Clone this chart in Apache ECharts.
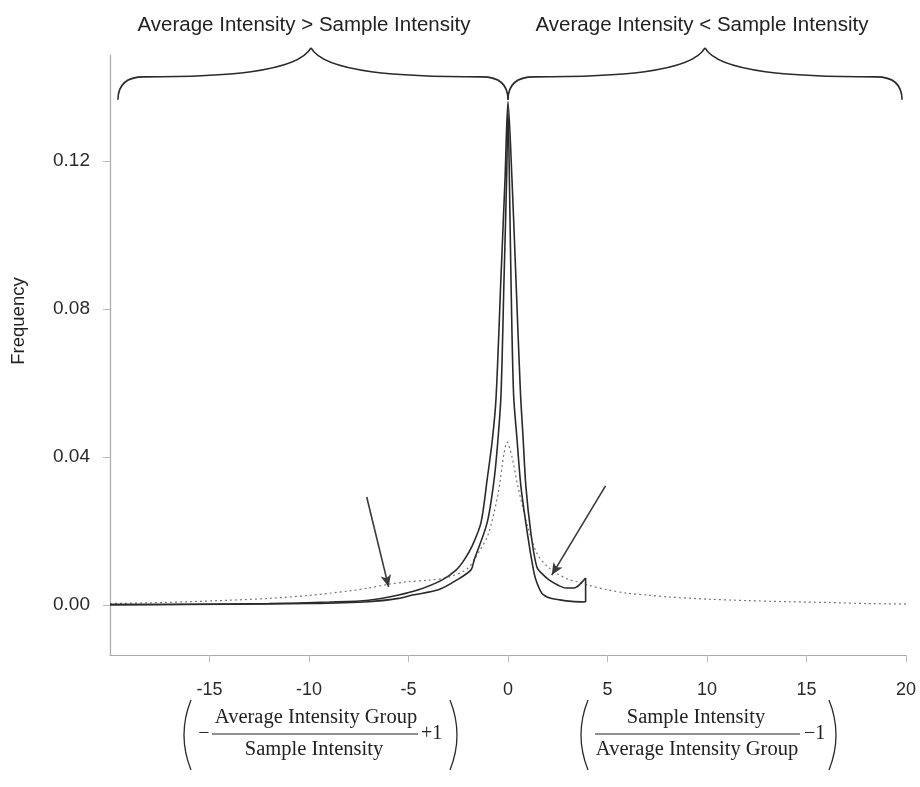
<!DOCTYPE html>
<html>
<head>
<meta charset="utf-8">
<script src="https://cdn.jsdelivr.net/npm/echarts@6/dist/echarts.min.js"></script>
<style>
html,body{margin:0;padding:0;background:#fff;}
#main{width:920px;height:787px;}
</style>
</head>
<body>
<div id="main"></div>
<script>
// tick labels
var xTicks = [-15, -10, -5, 0, 5, 10, 15, 20];
var yTicks = [0, 0.04, 0.08, 0.12];

// outer solid curve
var curveA = [[-20,0.0001],[-16,0.0002],[-12,0.0004],[-9,0.0008],[-7,0.0013],[-5.5,0.0027],[-4.5,0.0041],
	[-3.3,0.0068],[-2.6,0.0095],[-2.2,0.0122],[-1.8,0.016],[-1.36,0.0222],[-1.05,0.0338],
	[-0.78,0.045],[-0.6,0.056],[-0.35,0.089],[-0.15,0.115],[0,0.136],
	[0.2,0.115],[0.4,0.088],[0.62,0.058],[0.76,0.045],[0.9,0.032],[1.15,0.0195],[1.45,0.0103],
	[1.8,0.008],[2.06,0.0068],[2.5,0.0054],[2.9,0.0046],[3.3,0.0046],[3.57,0.0054],[3.9,0.0073]];
// inner solid curve
var curveB = [[-20,0.0001],[-14,0.0002],[-10,0.0004],[-7,0.0009],[-5.5,0.0018],[-4.8,0.0027],[-3.5,0.0041],
	[-2.56,0.0068],[-1.86,0.0095],[-1.7,0.0122],[-1.05,0.0222],[-0.7,0.0338],[-0.5,0.045],
	[-0.35,0.057],[-0.2,0.088],[-0.07,0.115],[0,0.134],[0.07,0.115],[0.15,0.088],[0.28,0.057],[0.45,0.045],
	[0.65,0.032],[0.97,0.0195],[1.25,0.0103],[1.4,0.0068],[1.7,0.0032],[2.1,0.0019],[2.6,0.0014],
	[3.2,0.001],[3.9,0.0008]];
// closing edge of the solid curves
var cutoffEdge = [[3.9,0.0073],[3.9,0.0008]];
// dotted curve
var curveDotted = [[-20,0.0004],[-18,0.0006],[-16,0.0009],[-14,0.0013],[-12,0.0018],[-10,0.0026],[-8,0.0038],
	[-7,0.0046],[-6,0.0056],[-5,0.0063],[-4,0.0067],[-3,0.0075],[-2,0.010],[-1.5,0.014],[-1,0.019],
	[-0.5,0.030],[-0.2,0.041],[-0.05,0.044],[0.2,0.040],[0.5,0.032],[1,0.021],[1.5,0.0135],[2,0.0103],
	[2.5,0.0084],[3,0.007],[3.5,0.0062],[4,0.0054],[5,0.0041],[6,0.0032],[7,0.0027],[8,0.0022],
	[10,0.0016],[12,0.0012],[14,0.0009],[16,0.0007],[18,0.0004],[20,0.0003]];

var arrowLeft = [[-7.1,0.0292],[-6.0,0.0049]];
var arrowRight = [[4.9,0.0322],[2.2,0.0081]];

var leftTitle = 'Average Intensity > Sample Intensity';
var rightTitle = 'Average Intensity < Sample Intensity';
// brace: start, tip, end on x
var braceLeft = [-19.6, -9.9, 0];
var braceRight = [0, 9.9, 19.8];
var braceY = [0.1365, 0.1427, 0.1505]; // end, flat, tip

var sans = '"Liberation Sans", Arial, sans-serif';
var serif = '"Liberation Serif", "Times New Roman", serif';
var ink = '#2a2a2a';

var chart = echarts.init(document.getElementById('main'));

function solid(data){
	return {
		type:'line', data:data, showSymbol:false, smooth:0.3, animation:false,
		lineStyle:{color:ink, width:1.6}
	};
}

var option = {
	backgroundColor:'#fff',
	animation:false,
	grid:{left:110, right:14, top:55, bottom:132},
	xAxis:{
		type:'value', min:-20, max:20, interval:5,
		axisLine:{show:true, onZero:false, lineStyle:{color:'#aaa', width:1.2}},
		axisTick:{show:true, customValues:xTicks, length:7, lineStyle:{color:'#bbb'}},
		axisLabel:{customValues:xTicks, margin:26, fontSize:18, color:ink, fontFamily:sans},
		splitLine:{show:false}
	},
	yAxis:{
		type:'value', min:-0.0135, max:0.1486,
		axisLine:{show:true, onZero:false, lineStyle:{color:'#aaa', width:1.2}},
		axisTick:{show:true, customValues:yTicks, length:7, lineStyle:{color:'#bbb'}},
		axisLabel:{customValues:yTicks, margin:20, fontSize:19, color:ink, fontFamily:sans,
			formatter:function(v){ return v.toFixed(2); }},
		splitLine:{show:false}
	},
	series:[
		{
			type:'line', data:curveDotted, showSymbol:false, smooth:0.3, animation:false,
			lineStyle:{color:'#777', width:1.2, type:[2,3]},
			markLine:{
				silent:true, animation:false, symbol:['none','arrow'], symbolSize:[8,12],
				label:{show:false},
				lineStyle:{color:'#3a3a3a', width:1.6, type:'solid'},
				data:[
					[{coord:arrowLeft[0]},{coord:arrowLeft[1]}],
					[{coord:arrowRight[0]},{coord:arrowRight[1]}]
				]
			}
		},
		solid(curveA),
		solid(curveB),
		{type:'line', data:cutoffEdge, showSymbol:false, animation:false, lineStyle:{color:ink, width:1.6}}
	]
};
chart.setOption(option);

function px(x, y){
	return chart.convertToPixel({gridIndex:0}, [x, y]);
}

function curve(x1, y1, cx1, cy1, cx2, cy2, x2, y2, w){
	var shape = {x1:x1, y1:y1, x2:x2, y2:y2, cpx1:cx1, cpy1:cy1};
	if (cx2 != null) { shape.cpx2 = cx2; shape.cpy2 = cy2; }
	return {type:'bezierCurve', silent:true, shape:shape, style:{stroke:ink, lineWidth:w || 1.6, fill:null}};
}

// a curly brace made from four bezier pieces
function brace(b){
	var a = px(b[0], braceY[0]), m = px(b[1], braceY[2]), e = px(b[2], braceY[0]);
	var yf = px(0, braceY[1])[1];
	var xa = a[0], xm = m[0], xb = e[0], ye = a[1], yt = m[1];
	return [
		curve(xa, ye, xa, yf, null, null, xa + 26, yf),
		curve(xa + 26, yf, xm - 90, yf, xm - 14, yf - 4, xm, yt),
		curve(xm, yt, xm + 14, yf - 4, xm + 90, yf, xb - 26, yf),
		curve(xb - 26, yf, xb, yf, null, null, xb, ye)
	];
}

function txt(x, y, s, font, size, align){
	return {type:'text', x:x, y:y, silent:true,
		style:{text:s, fill:'#222', font:size + 'px ' + font, textAlign:align || 'center', textVerticalAlign:'middle'}};
}
function ln(x1, y1, x2, y2){
	return {type:'line', silent:true, shape:{x1:x1, y1:y1, x2:x2, y2:y2}, style:{stroke:'#222', lineWidth:1.2}};
}
function paren(x, dir){
	return curve(x, 700, x - dir * 14, 735, null, null, x, 770, 1.3);
}

var tipL = px(braceLeft[1], 0)[0], tipR = px(braceRight[1], 0)[0];
var g = brace(braceLeft).concat(brace(braceRight)).concat([
	txt(tipL - 7, 25, leftTitle, sans, 20.5),
	txt(tipR - 3, 25, rightTitle, sans, 20.5),
	{type:'text', x:19, y:321, rotation:Math.PI / 2, silent:true,
		style:{text:'Frequency', fill:'#222', font:'18.5px ' + sans, textAlign:'center', textVerticalAlign:'middle'}},
	// left formula
	paren(191, 1),
	txt(204, 734, '\u2212', serif, 20),
	ln(212, 734, 418, 734),
	txt(316, 718, 'Average Intensity Group', serif, 20.5),
	txt(314, 750, 'Sample Intensity', serif, 20.5),
	txt(421, 734, '+1', serif, 20, 'left'),
	paren(450, -1),
	// right formula
	paren(588, 1),
	ln(595, 734, 800, 734),
	txt(696, 718, 'Sample Intensity', serif, 20.5),
	txt(697, 750, 'Average Intensity Group', serif, 20.5),
	txt(804, 734, '\u22121', serif, 20, 'left'),
	paren(829, -1)
]);
chart.setOption({graphic:g});
</script>
</body>
</html>
